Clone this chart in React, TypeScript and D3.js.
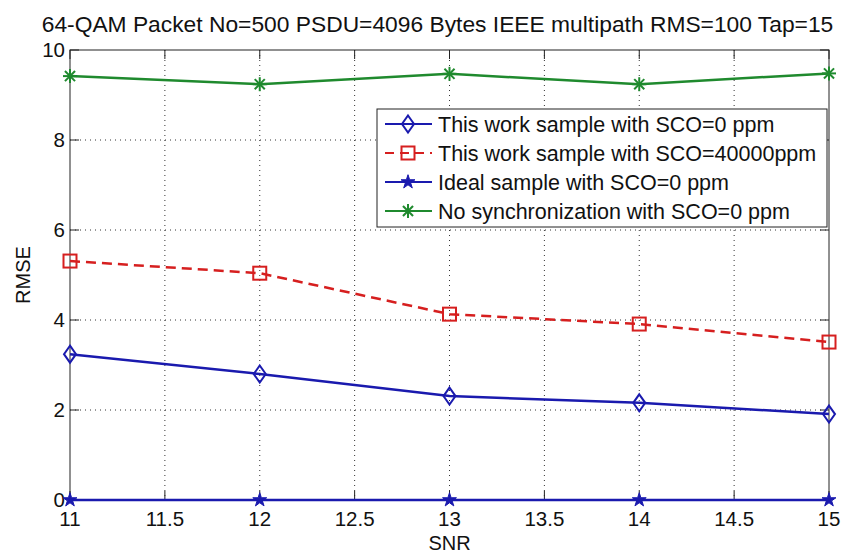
import React from "react";
import * as d3 from "d3";

const snr = [11, 12, 13, 14, 15];
const thisWork0 = [3.24, 2.8, 2.31, 2.16, 1.91];
const thisWork40000 = [5.31, 5.04, 4.13, 3.91, 3.51];
const ideal0 = [0, 0, 0, 0, 0];
const noSync0 = [9.42, 9.24, 9.47, 9.24, 9.48];
const xTicks = [11, 11.5, 12, 12.5, 13, 13.5, 14, 14.5, 15];
const yTicks = [0, 2, 4, 6, 8, 10];
const legendLabels = [
  "This work sample with SCO=0 ppm",
  "This work sample with SCO=40000ppm",
  "Ideal sample with SCO=0 ppm",
  "No synchronization with SCO=0 ppm",
];

const W = 842, H = 553;
const L = 70, R = 829, T = 50, B = 500;
const FONT = "'Liberation Sans', Arial, Helvetica, sans-serif";
const BLUE = "#1a1aae";
const RED = "#d61f1f";
const GREEN = "#1f8a2e";

type Marker = "diamond" | "square" | "star" | "asterisk";

function MarkerShape({ type, x, y, color }: { type: Marker; x: number; y: number; color: string }) {
  if (type === "diamond") {
    const s = 8.5;
    return <path d={`M${x},${y - s}L${x + 6},${y}L${x},${y + s}L${x - 6},${y}Z`} fill="none" stroke={color} strokeWidth={2} />;
  }
  if (type === "square") {
    const s = 6.5;
    return <rect x={x - s} y={y - s} width={2 * s} height={2 * s} fill="none" stroke={color} strokeWidth={2} />;
  }
  if (type === "star") {
    const sym = d3.symbol().type(d3.symbolStar).size(60)();
    return <path d={sym || ""} transform={`translate(${x},${y})`} fill={color} stroke={color} strokeWidth={1} />;
  }
  const r = 7, d = r * 0.72;
  return (
    <g stroke={color} strokeWidth={2}>
      <line x1={x - r} y1={y} x2={x + r} y2={y} />
      <line x1={x} y1={y - r} x2={x} y2={y + r} />
      <line x1={x - d} y1={y - d} x2={x + d} y2={y + d} />
      <line x1={x - d} y1={y + d} x2={x + d} y2={y - d} />
    </g>
  );
}

export default function App() {
  const x = d3.scaleLinear().domain([11, 15]).range([L, R]);
  const y = d3.scaleLinear().domain([0, 10]).range([B, T]);
  const line = d3.line<number>().x((_, i) => x(snr[i])).y((v) => y(v));

  const series: { vals: number[]; color: string; marker: Marker; dash?: string }[] = [
    { vals: thisWork0, color: BLUE, marker: "diamond" },
    { vals: thisWork40000, color: RED, marker: "square", dash: "10,6" },
    { vals: ideal0, color: BLUE, marker: "star" },
    { vals: noSync0, color: GREEN, marker: "asterisk" },
  ];

  const legX = 377, legY = 109, legW = 450, legH = 118, rowH = 29;

  return (
    <svg width={W} height={H} style={{ position: "absolute", left: 0, top: 0, background: "#fff" }} fontFamily={FONT}>
      <rect x={0} y={0} width={W} height={H} fill="#fff" />
      <text x={437.5} y={32} textAnchor="middle" fontSize={22.8} fill="#111">
        64-QAM Packet No=500 PSDU=4096 Bytes IEEE multipath RMS=100 Tap=15
      </text>
      {/* grid */}
      <g stroke="#333" strokeWidth={1} strokeDasharray="1,4">
        {xTicks.slice(1, -1).map((t) => (
          <line key={"gx" + t} x1={x(t)} x2={x(t)} y1={T} y2={B} />
        ))}
        {yTicks.slice(1, -1).map((t) => (
          <line key={"gy" + t} x1={L} x2={R} y1={y(t)} y2={y(t)} />
        ))}
      </g>
      {/* tick marks */}
      <g stroke="#222" strokeWidth={1}>
        {xTicks.map((t) => (
          <g key={"tx" + t}>
            <line x1={x(t)} x2={x(t)} y1={B} y2={B - 9} />
            <line x1={x(t)} x2={x(t)} y1={T} y2={T + 9} />
          </g>
        ))}
        {yTicks.map((t) => (
          <g key={"ty" + t}>
            <line x1={L} x2={L + 9} y1={y(t)} y2={y(t)} />
            <line x1={R} x2={R - 9} y1={y(t)} y2={y(t)} />
          </g>
        ))}
      </g>
      <rect x={L} y={T} width={R - L} height={B - T} fill="none" stroke="#222" strokeWidth={1} />
      {/* tick labels */}
      {xTicks.map((t) => (
        <text key={"lx" + t} x={x(t)} y={526} textAnchor="middle" fontSize={20.5} fill="#111">
          {t}
        </text>
      ))}
      {yTicks.map((t) => (
        <text key={"ly" + t} x={65} y={y(t) + 6.5} textAnchor="end" fontSize={20.5} fill="#111">
          {t}
        </text>
      ))}
      <text x={(L + R) / 2} y={550} textAnchor="middle" fontSize={20} fill="#111">SNR</text>
      <text transform={`translate(30,${(T + B) / 2}) rotate(-90)`} textAnchor="middle" fontSize={20} fill="#111">RMSE</text>
      {/* series */}
      {series.map((s, si) => (
        <g key={"s" + si}>
          <path d={line(s.vals) || ""} fill="none" stroke={s.color} strokeWidth={2.5} strokeDasharray={s.dash} />
          {s.vals.map((v, i) => (
            <MarkerShape key={i} type={s.marker} x={x(snr[i])} y={y(v)} color={s.color} />
          ))}
        </g>
      ))}
      {/* legend */}
      <rect x={legX} y={legY} width={legW} height={legH} fill="#fff" stroke="#222" strokeWidth={1} />
      {series.map((s, i) => {
        const cy = legY + 15 + i * rowH;
        return (
          <g key={"leg" + i}>
            <line x1={legX + 8} x2={legX + 55} y1={cy} y2={cy} stroke={s.color} strokeWidth={2} strokeDasharray={s.dash ? "9,6" : undefined} />
            <MarkerShape type={s.marker} x={legX + 31} y={cy} color={s.color} />
            <text x={legX + 61} y={cy + 7.5} fontSize={21.5} fill="#111">{legendLabels[i]}</text>
          </g>
        );
      })}
    </svg>
  );
}
